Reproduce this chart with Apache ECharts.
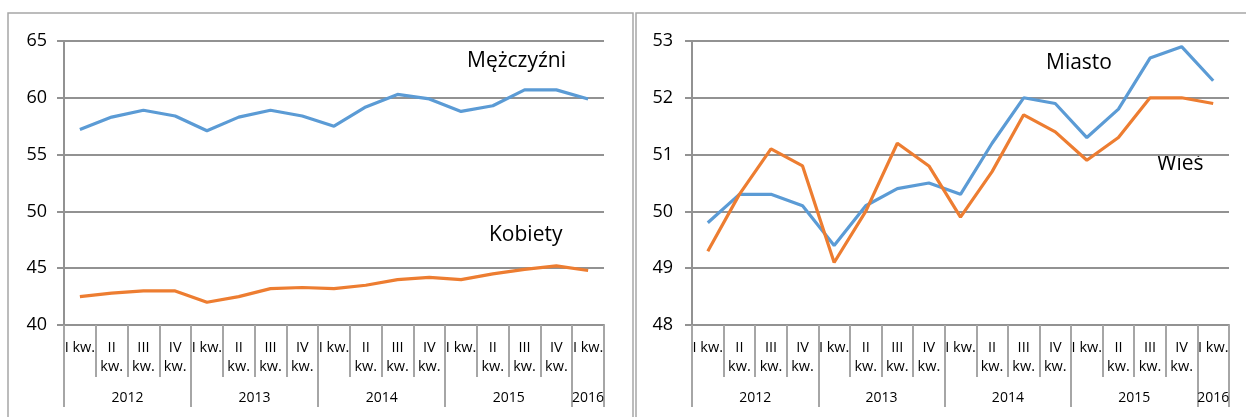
<!DOCTYPE html>
<html>
<head>
<meta charset="utf-8">
<script src="https://cdn.jsdelivr.net/npm/echarts@6/dist/echarts.min.js"></script>
<style>
  html, body { margin: 0; padding: 0; background: #fff; }
  #chart { width: 1246px; height: 417px; }
</style>
</head>
<body>
<div id="chart"></div>
<script>
// kwartały i lata
const quarters = [
  "I kw.", "II\nkw.", "III\nkw.", "IV\nkw.",
  "I kw.", "II\nkw.", "III\nkw.", "IV\nkw.",
  "I kw.", "II\nkw.", "III\nkw.", "IV\nkw.",
  "I kw.", "II\nkw.", "III\nkw.", "IV\nkw.",
  "I kw."
];
const years = ["2012", "2013", "2014", "2015", "2016"];
const quartersPerYear = [4, 4, 4, 4, 1];

// wykres lewy
const men = [57.2, 58.3, 58.9, 58.4, 57.1, 58.3, 58.9, 58.4, 57.5, 59.2, 60.3, 59.9, 58.8, 59.3, 60.7, 60.7, 59.9];
const women = [42.5, 42.8, 43.0, 43.0, 42.0, 42.5, 43.2, 43.3, 43.2, 43.5, 44.0, 44.2, 44.0, 44.5, 44.9, 45.2, 44.8];
// wykres prawy
const town = [49.8, 50.3, 50.3, 50.1, 49.4, 50.1, 50.4, 50.5, 50.3, 51.2, 52.0, 51.9, 51.3, 51.8, 52.7, 52.9, 52.3];
const village = [49.3, 50.3, 51.1, 50.8, 49.1, 50.0, 51.2, 50.8, 49.9, 50.7, 51.7, 51.4, 50.9, 51.3, 52.0, 52.0, 51.9];

const BLUE = "#5b9bd5";
const ORANGE = "#ed7d31";
const GRID = "#929292";
const DIV = "#a6a6a6";
const FONT = "Open Sans";

// granice lat i środki etykiet lat (w jednostkach kategorii)
const yearBounds = [0];
const yearCenters = [];
quartersPerYear.forEach((n) => {
  const start = yearBounds[yearBounds.length - 1];
  yearCenters.push(start + n / 2);
  yearBounds.push(start + n);
});

const myChart = echarts.init(document.getElementById("chart"));

function xAxes(gridIndex) {
  return [
    {
      type: "category",
      gridIndex: gridIndex,
      data: quarters,
      boundaryGap: true,
      axisLine: { show: true, lineStyle: { color: GRID, width: 2 } },
      axisTick: { show: true, interval: 0, length: 52, lineStyle: { color: DIV, width: 2 } },
      axisLabel: {
        interval: 0, margin: 13, fontFamily: FONT, fontSize: 14.5,
        lineHeight: 19, color: "#000"
      },
      splitLine: { show: false }
    },
    {
      type: "value",
      gridIndex: gridIndex,
      position: "bottom",
      min: 0,
      max: quarters.length,
      axisLine: { show: false },
      axisTick: { show: true, length: 82, customValues: yearBounds, lineStyle: { color: DIV, width: 2 } },
      axisLabel: {
        customValues: yearCenters, margin: 64, fontFamily: FONT, fontSize: 14,
        lineHeight: 19, color: "#000",
        formatter: (v) => years[yearCenters.indexOf(v)] || ""
      },
      splitLine: { show: false }
    }
  ];
}

function yAxis(gridIndex, min, max, interval, margin) {
  return {
    type: "value",
    gridIndex: gridIndex,
    min: min,
    max: max,
    interval: interval,
    axisLine: { show: true, lineStyle: { color: GRID, width: 2 } },
    axisTick: { show: true, length: 7, lineStyle: { color: GRID, width: 2 } },
    axisLabel: { margin: margin, fontFamily: FONT, fontSize: 18, color: "#000" },
    splitLine: { show: true, lineStyle: { color: GRID, width: 2 } }
  };
}

function line(name, data, color, idx) {
  return {
    name: name,
    type: "line",
    data: data,
    xAxisIndex: idx * 2,
    yAxisIndex: idx,
    symbol: "none",
    lineStyle: { color: color, width: 3.2 },
    itemStyle: { color: color },
    animation: false
  };
}

function label(text, x, y) {
  return {
    type: "text",
    left: x,
    top: y,
    style: { text: text, fontFamily: FONT, fontSize: 21, fill: "#000" }
  };
}

const option = {
  animation: false,
  textStyle: { fontFamily: FONT },
  grid: [
    { left: 64, top: 41, width: 540, height: 284 },
    { left: 692, top: 41, width: 537, height: 284 }
  ],
  xAxis: [...xAxes(0), ...xAxes(1)],
  yAxis: [yAxis(0, 40, 65, 5, 17), yAxis(1, 48, 53, 1, 19)],
  series: [
    line("Mężczyźni", men, BLUE, 0),
    line("Kobiety", women, ORANGE, 0),
    line("Miasto", town, BLUE, 1),
    line("Wieś", village, ORANGE, 1)
  ],
  graphic: [
    {
      type: "rect", silent: true,
      shape: { x: 8, y: 13, width: 625, height: 420 },
      style: { fill: "none", stroke: DIV, lineWidth: 1.5 }
    },
    {
      type: "rect", silent: true,
      shape: { x: 636, y: 13, width: 620, height: 420 },
      style: { fill: "none", stroke: DIV, lineWidth: 1.5 }
    },
    label("Mężczyźni", 467, 51),
    label("Kobiety", 489, 225),
    label("Miasto", 1046, 53),
    label("Wieś", 1157, 154)
  ]
};

myChart.setOption(option);
</script>
</body>
</html>
